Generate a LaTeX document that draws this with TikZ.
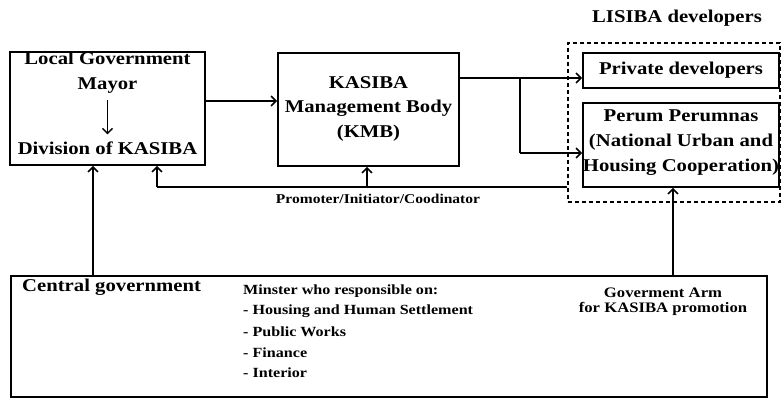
\documentclass[tikz,border=0pt]{standalone}
\usepackage{fontspec}
\setmainfont[FakeStretch=1.15]{Liberation Serif}
\usetikzlibrary{arrows.meta,calc,fit}
\begin{document}
\begin{tikzpicture}[x=1pt,y=-1pt,
  box/.style={draw,line width=1.8pt,inner sep=0pt},
  txt/.style={inner sep=0pt,align=center,font=\fontsize{18}{24.5}\selectfont\bfseries},
  sm/.style={inner sep=0pt,anchor=west,font=\fontsize{14}{16}\selectfont\bfseries},
  mid/.style={inner sep=0pt,font=\fontsize{14.5}{16}\selectfont\bfseries},
  conn/.style={line width=1.8pt},
  arr/.style={conn,-{Straight Barb[length=5pt,width=10pt,line width=1.5pt]}}]
\useasboundingbox (0,0) rectangle (783,400);
% corner coordinates of boxes
\coordinate (lgA) at (10,52);   \coordinate (lgB) at (205,165);
\coordinate (kmA) at (278,53);  \coordinate (kmB) at (459,166);
\coordinate (dvA) at (568,43);  \coordinate (dvB) at (780,202);
\coordinate (pdA) at (583,53);  \coordinate (pdB) at (779,88);
\coordinate (ppA) at (583,103); \coordinate (ppB) at (779,187);
\coordinate (cgA) at (11,276);  \coordinate (cgB) at (767,397);
% Local government
\node[box,fit=(lgA)(lgB)] (lg) {};
\node[txt] (lgt) at (107.5,72.5) {Local Government\\Mayor};
\node[txt] (div) at (107.5,148) {Division of KASIBA};
\draw[arr] ([yshift=-7pt]lgt.south) -- ([yshift=7pt]div.north);
% KMB
\node[box,fit=(kmA)(kmB)] (kmb) {};
\node[txt] (kmbt) at (368.5,108.5) {KASIBA\\Management Body\\(KMB)};
% developers
\node[draw,line width=1.8pt,dash pattern=on 4pt off 3pt,inner sep=0pt,fit=(dvA)(dvB)] (dev) {};
\node[box,fit=(pdA)(pdB)] (pd) {};
\node[txt] (pdt) at (pd) {Private developers};
\node[box,fit=(ppA)(ppB)] (pp) {};
\node[txt,font=\fontsize{18}{25}\selectfont\bfseries] (ppt) at (681,143) {Perum Perumnas\\(National Urban and\\Housing Cooperation)};
\node[txt] (lis) at (677,18) {LISIBA developers};
% central government
\node[box,fit=(cgA)(cgB)] (cg) {};
\node[txt,anchor=west] (cgt) at (22,287) {Central government};
\node[sm] (m0) at (243,291) {Minster who responsible on:};
\node[sm] (m1) at (243,311.5) {- Housing and Human Settlement};
\node[sm] (m2) at (243,332) {- Public Works};
\node[sm] (m3) at (243,352.5) {- Finance};
\node[sm] (m4) at (243,373) {- Interior};
\node[mid] (ga1) at (663,293) {Goverment Arm};
\node[mid] (ga2) at (663,309) {for KASIBA promotion};
\node[inner sep=0pt,font=\fontsize{13.5}{14}\selectfont\bfseries] (prom) at (378,199) {Promoter/Initiator/Coodinator};
% connectors
\coordinate (r1) at (0,101);
\draw[arr] (lg.east |- r1) -- (kmb.west |- r1);
\coordinate (j1) at (520,78);
\coordinate (j2) at (520,153);
\draw[conn] (kmb.east |- j1) -- (j1) -- (j2);
\draw[arr] (j1) -- (pd.west |- j1);
\draw[arr] (j2) -- (pp.west |- j2);
\coordinate (b1) at (157,187);
\coordinate (b2) at (367,187);
\draw[conn] (dev.west |- b1) -- (b1);
\draw[arr] (b1) -- (lg.south -| b1);
\draw[arr] (b2) -- (kmb.south -| b2);
\coordinate (c1) at (93,0);
\coordinate (c2) at (673,0);
\draw[arr] (cg.north -| c1) -- (lg.south -| c1);
\draw[arr] (cg.north -| c2) -- (pp.south -| c2);
\end{tikzpicture}
\end{document}
